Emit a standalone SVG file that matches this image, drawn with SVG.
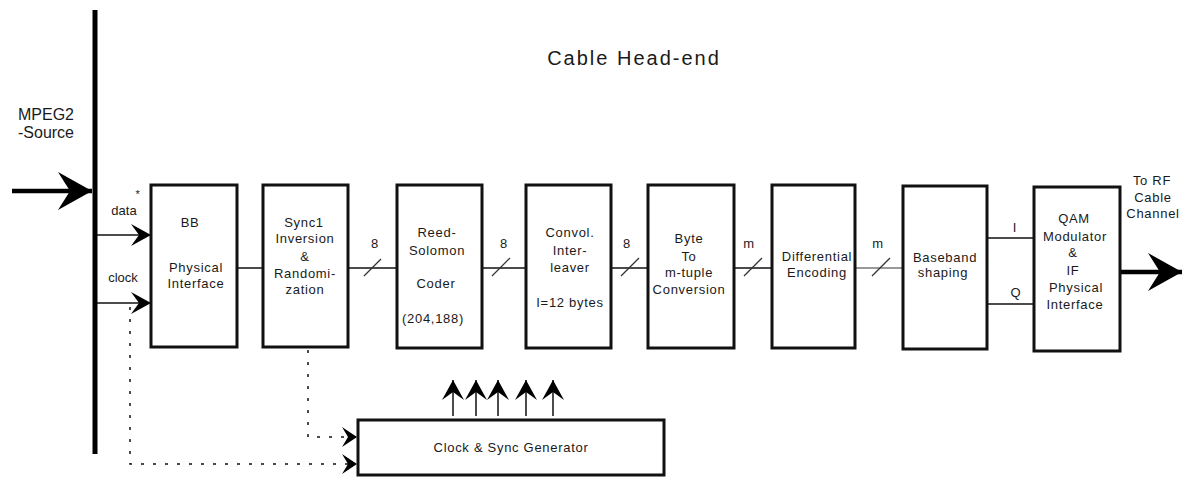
<svg xmlns="http://www.w3.org/2000/svg" width="1192" height="477" viewBox="0 0 1192 477">
<style>
text{font-family:"Liberation Sans",Arial,sans-serif;fill:#1a1a1a;font-size:13px;text-anchor:middle;letter-spacing:0.7px}
.box{fill:#fff;stroke:#111;stroke-width:3}
.ln{stroke:#111;stroke-width:1.5;fill:none}
.dot{stroke:#111;stroke-width:1.5;fill:none;stroke-dasharray:3 9}
.sl{stroke:#333;stroke-width:1.2}
.big{stroke:#000;stroke-width:4.5;fill:none}
</style>
<defs>
<marker id="ah" markerUnits="userSpaceOnUse" viewBox="-21 -12 22 24" refX="0" refY="0" markerWidth="22" markerHeight="24" orient="auto">
<path d="M0,0 L-20,-11 L-12,0 L-20,11 Z" fill="#000"/>
</marker>
<marker id="ch" markerUnits="userSpaceOnUse" viewBox="-16 -11 17 22" refX="0" refY="0" markerWidth="17" markerHeight="22" orient="auto">
<path d="M0,0 L-15,-10 L-9,0 L-15,10 Z" fill="#000"/>
</marker>
<marker id="bg" markerUnits="userSpaceOnUse" viewBox="-36 -20 37 40" refX="0" refY="0" markerWidth="37" markerHeight="40" orient="auto">
<path d="M0,0 L-34,-19 L-22,0 L-34,19 Z" fill="#000"/>
</marker>
</defs>

<text x="634" y="65" style="font-size:20px;letter-spacing:2px">Cable Head-end</text>

<g id="source">
<rect x="92.5" y="10" width="5" height="444" fill="#000"/>
<text x="46" y="120" style="font-size:16px;letter-spacing:0">MPEG2</text>
<text x="46" y="138" style="font-size:16px;letter-spacing:0">-Source</text>
</g>

<g id="connectors">
<line class="big" x1="12" y1="191" x2="92" y2="191" marker-end="url(#bg)"/>
<line class="ln" x1="97" y1="235" x2="151" y2="235" marker-end="url(#ah)"/>
<line class="ln" x1="97" y1="303" x2="151" y2="303" marker-end="url(#ah)"/>
<text x="124" y="215" style="letter-spacing:0">data</text>
<text x="138" y="198" style="font-size:11px">*</text>
<text x="123" y="282" style="letter-spacing:0">clock</text>

<line class="ln" x1="237" y1="268" x2="263" y2="268"/>
<line class="ln" x1="348" y1="268" x2="397" y2="268"/>
<line class="ln" x1="482" y1="268" x2="526" y2="268"/>
<line class="ln" x1="611" y1="268" x2="648" y2="268"/>
<line class="ln" x1="734" y1="268" x2="772" y2="268"/>
<line class="ln" x1="855" y1="268" x2="903" y2="268" style="stroke:#777"/>
<line class="sl" x1="364" y1="276" x2="381" y2="259"/>
<line class="sl" x1="492" y1="276" x2="510" y2="258"/>
<line class="sl" x1="621" y1="276" x2="639" y2="258"/>
<line class="sl" x1="744" y1="276" x2="762" y2="258"/>
<line class="sl" x1="872" y1="276" x2="890" y2="258"/>
<text x="375" y="248">8</text>
<text x="504" y="248">8</text>
<text x="627" y="248">8</text>
<text x="749" y="248">m</text>
<text x="878" y="248">m</text>

<line class="ln" x1="987" y1="238" x2="1034" y2="238"/>
<line class="ln" x1="987" y1="304" x2="1034" y2="304"/>
<text x="1015" y="232">I</text>
<text x="1016" y="297">Q</text>

<line class="big" x1="1120" y1="272" x2="1182" y2="272" marker-end="url(#bg)"/>
<text x="1152" y="185">To RF</text>
<text x="1153" y="202">Cable</text>
<text x="1153" y="218">Channel</text>

<polyline class="dot" points="130,307 130,464 357,464" marker-end="url(#ch)"/>
<polyline class="dot" points="308,350 308,437 357,437" marker-end="url(#ch)"/>

<line class="ln" x1="453" y1="416" x2="453" y2="380" marker-end="url(#ah)"/>
<line class="ln" x1="476" y1="416" x2="476" y2="380" marker-end="url(#ah)"/>
<line class="ln" x1="498" y1="416" x2="498" y2="380" marker-end="url(#ah)"/>
<line class="ln" x1="526" y1="416" x2="526" y2="380" marker-end="url(#ah)"/>
<line class="ln" x1="553" y1="416" x2="553" y2="380" marker-end="url(#ah)"/>
</g>

<g id="bb">
<rect class="box" x="151" y="185" width="86" height="162"/>
<text x="190" y="227">BB</text>
<text x="196" y="272">Physical</text>
<text x="196" y="288">Interface</text>
</g>

<g id="sync1">
<rect class="box" x="263" y="185" width="85" height="162"/>
<text x="304" y="227">Sync1</text>
<text x="305" y="243">Inversion</text>
<text x="305" y="261">&amp;</text>
<text x="305" y="278">Randomi-</text>
<text x="305" y="294">zation</text>
</g>

<g id="rs">
<rect class="box" x="397" y="185" width="85" height="163"/>
<text x="437" y="237">Reed-</text>
<text x="437" y="255">Solomon</text>
<text x="436" y="288">Coder</text>
<text x="433" y="323">(204,188)</text>
</g>

<g id="conv">
<rect class="box" x="526" y="185" width="85" height="163"/>
<text x="570" y="237">Convol.</text>
<text x="570" y="255">Inter-</text>
<text x="570" y="272">leaver</text>
<text x="570" y="307">I=12 bytes</text>
</g>

<g id="byte">
<rect class="box" x="648" y="185" width="86" height="163"/>
<text x="689" y="243">Byte</text>
<text x="689" y="261">To</text>
<text x="689" y="277">m-tuple</text>
<text x="689" y="294">Conversion</text>
</g>

<g id="diff">
<rect class="box" x="772" y="185" width="83" height="163"/>
<text x="817" y="261">Differential</text>
<text x="817" y="277">Encoding</text>
</g>

<g id="baseband">
<rect class="box" x="903" y="186" width="84" height="163"/>
<text x="945" y="262">Baseband</text>
<text x="943" y="277">shaping</text>
</g>

<g id="qam">
<rect class="box" x="1034" y="187" width="86" height="164"/>
<text x="1074" y="223">QAM</text>
<text x="1075" y="241">Modulator</text>
<text x="1073" y="257">&amp;</text>
<text x="1073" y="275">IF</text>
<text x="1076" y="292">Physical</text>
<text x="1075" y="309">Interface</text>
</g>

<g id="clockgen">
<rect class="box" x="358" y="420" width="306" height="55"/>
<text x="511" y="452">Clock &amp; Sync Generator</text>
</g>
</svg>
